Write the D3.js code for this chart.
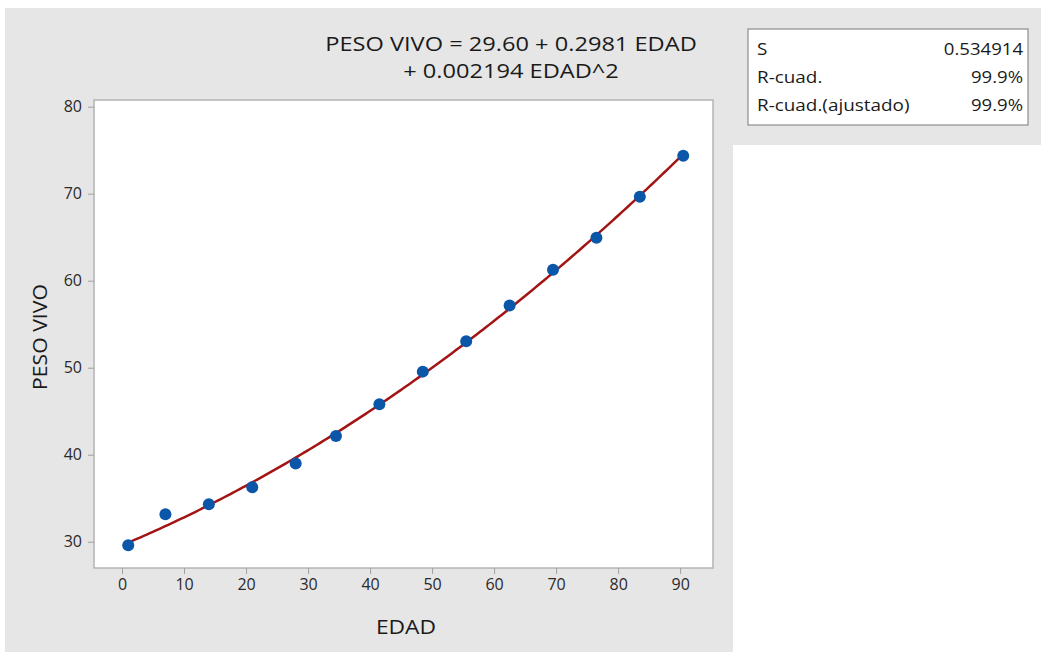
<!DOCTYPE html>
<html>
<head>
<meta charset="utf-8">
<script src="https://cdn.jsdelivr.net/npm/d3@7"></script>
<style>
  body { margin: 0; background: #fff; }
  svg { display: block; font-family: 'Open Sans', 'Noto Sans', sans-serif; }
</style>
</head>
<body>
<div id="chart"></div>
<script>
// observed points (EDAD, PESO VIVO)
const edad = [1, 7, 14, 21, 28, 34.5, 41.5, 48.5, 55.5, 62.5, 69.5, 76.5, 83.5, 90.5];
const pesoVivo = [29.6, 33.15, 34.3, 36.25, 39.0, 42.15, 45.8, 49.55, 53.05, 57.15, 61.25, 64.95, 69.65, 74.35];

// fitted quadratic from the equation shown in the title
const coef = [29.60, 0.2981, 0.002194];

const xTicks = [0, 10, 20, 30, 40, 50, 60, 70, 80, 90];
const yTicks = [30, 40, 50, 60, 70, 80];

const titleLines = ['PESO VIVO = 29.60 + 0.2981 EDAD', '+ 0.002194 EDAD^2'];
const statLabels = ['S', 'R-cuad.', 'R-cuad.(ajustado)'];
const statValues = ['0.534914', '99.9%', '99.9%'];

const width = 1041, height = 652;
const plot = { left: 94, right: 713, top: 100, bottom: 568 };
const INK = '#1a1a1a';

// stretch text a bit wider, the source rendering is wider than Open Sans
function widen(sel, k) {
  sel.each(function () {
    const w = this.getComputedTextLength();
    d3.select(this).attr('textLength', w * k).attr('lengthAdjust', 'spacingAndGlyphs');
  });
}

const svg = d3.select('#chart')
  .append('svg')
  .attr('width', width)
  .attr('height', height);

// grey panels
svg.append('rect')
  .attr('x', 5).attr('y', 8)
  .attr('width', 728).attr('height', height - 8)
  .attr('fill', '#e6e6e6');
svg.append('rect')
  .attr('x', 733).attr('y', 8)
  .attr('width', width - 733).attr('height', 137)
  .attr('fill', '#e6e6e6');

const x = d3.scaleLinear().domain([-4.52, 95.3]).range([plot.left, plot.right]);
const y = d3.scaleLinear().domain([26.98, 80.77]).range([plot.bottom, plot.top]);

// plot area
svg.append('rect')
  .attr('x', plot.left).attr('y', plot.top)
  .attr('width', plot.right - plot.left).attr('height', plot.bottom - plot.top)
  .attr('fill', '#fff')
  .attr('stroke', '#b4b4b4')
  .attr('stroke-width', 1.5);

// axes
const xAxis = svg.append('g')
  .attr('transform', `translate(0,${plot.bottom})`)
  .call(d3.axisBottom(x).tickValues(xTicks).tickSize(6).tickPadding(5));
const yAxis = svg.append('g')
  .attr('transform', `translate(${plot.left},0)`)
  .call(d3.axisLeft(y).tickValues(yTicks).tickSize(6).tickPadding(6));

[xAxis, yAxis].forEach(g => {
  g.select('.domain').remove();
  g.selectAll('.tick line').attr('stroke', '#a0a0a0');
  g.selectAll('.tick text')
    .attr('fill', '#2a2a2a')
    .attr('font-size', 16)
    .attr('font-family', "'Open Sans', sans-serif");
});

// fitted curve
const fit = d => coef[0] + coef[1] * d + coef[2] * d * d;
const curveX = d3.range(0, 181).map(i => edad[0] + (edad[edad.length - 1] - edad[0]) * i / 180);
svg.append('path')
  .datum(curveX)
  .attr('fill', 'none')
  .attr('stroke', '#a31515')
  .attr('stroke-width', 2.5)
  .attr('d', d3.line().x(d => x(d)).y(d => y(fit(d))));

// observed points
svg.append('g')
  .selectAll('circle')
  .data(edad.map((d, i) => [d, pesoVivo[i]]))
  .join('circle')
  .attr('cx', d => x(d[0]))
  .attr('cy', d => y(d[1]))
  .attr('r', 6)
  .attr('fill', '#0a56a8');

// title
svg.append('g')
  .selectAll('text')
  .data(titleLines)
  .join('text')
  .attr('x', 511)
  .attr('y', (d, i) => 51 + i * 27)
  .attr('text-anchor', 'middle')
  .attr('font-size', 20)
  .attr('fill', INK)
  .text(d => d)
  .call(widen, 1.18);

// axis titles
svg.append('text')
  .attr('x', 406)
  .attr('y', 634)
  .attr('text-anchor', 'middle')
  .attr('font-size', 20)
  .attr('fill', INK)
  .text('EDAD')
  .call(widen, 1.14);

svg.append('text')
  .attr('transform', `translate(47,337) rotate(-90)`)
  .attr('text-anchor', 'middle')
  .attr('font-size', 20)
  .attr('fill', INK)
  .text('PESO VIVO')
  .call(widen, 1.06);

// summary box
const box = { x: 748, y: 29, w: 280, h: 96 };
svg.append('rect')
  .attr('x', box.x).attr('y', box.y)
  .attr('width', box.w).attr('height', box.h)
  .attr('fill', '#fff')
  .attr('stroke', '#8c8c8c')
  .attr('stroke-width', 1.2);

const rows = svg.append('g')
  .selectAll('g')
  .data(statLabels)
  .join('g')
  .attr('transform', (d, i) => `translate(0,${55 + i * 28})`);
rows.append('text')
  .attr('x', 757)
  .attr('font-size', 16)
  .attr('fill', INK)
  .text(d => d)
  .call(widen, 1.18);
rows.append('text')
  .attr('x', 1023)
  .attr('text-anchor', 'end')
  .attr('font-size', 16)
  .attr('fill', INK)
  .text((d, i) => statValues[i])
  .call(widen, 1.16);
</script>
</body>
</html>
